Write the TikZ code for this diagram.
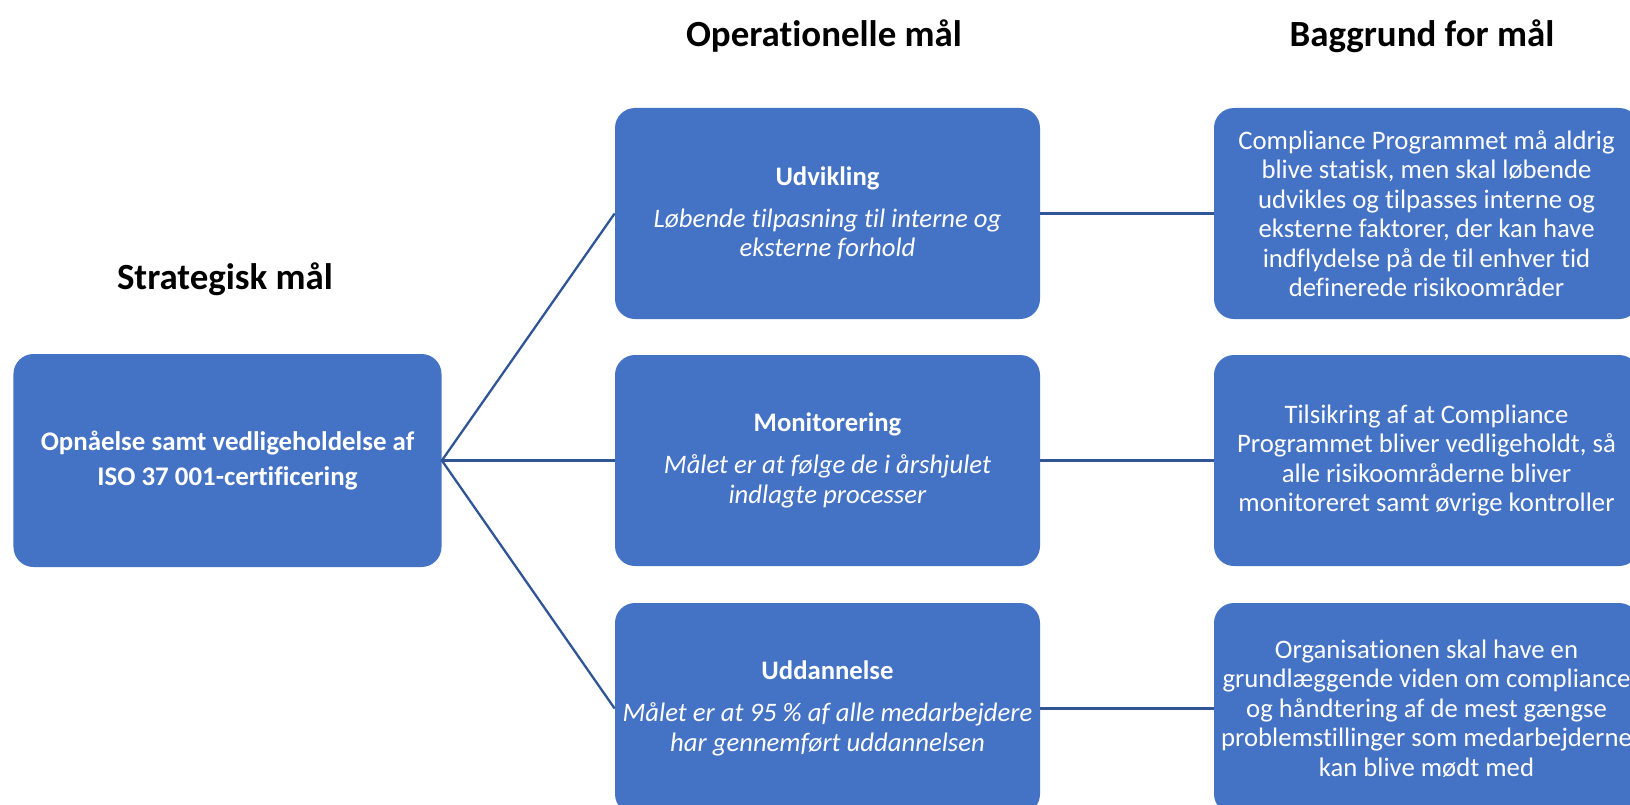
\documentclass[tikz,border=0pt]{standalone}
\usepackage{fontspec}
\setmainfont{Carlito}[Ligatures={NoCommon}]
\definecolor{boxblue}{HTML}{4472C4}
\definecolor{lineblue}{HTML}{2F5597}
\tikzset{
	box/.style={fill=boxblue,rounded corners=0.4cm,text=white,align=center,minimum width=8.5cm,minimum height=4.22cm,inner sep=0pt,font=\fontsize{15.2}{16.8}\selectfont},
	head/.style={font=\fontsize{21}{25}\selectfont\bfseries},
	link/.style={lineblue,line width=1.3pt}
}
\begin{document}
\begin{tikzpicture}[x=0.2mm,y=-0.2mm]
		\clip (0,0) rectangle (1630,805);
		\fill[white] (0,0) rectangle (1630,805);
		\node[head] (strathead) at (225,279) {Strategisk mål};
		\node[head] (ophead) at (824,36) {Operationelle mål};
		\node[head] (bghead) at (1422,36) {Baggrund for mål};
		\node[box,minimum width=8.56cm,minimum height=4.26cm,font=\fontsize{15.3}{20}\selectfont] (strat) at (227.5,460.5) {\textbf{Opnåelse samt vedligeholdelse af}\\\textbf{ISO 37 001-certificering}};
		\node[box] (udv) at (827.5,213.5) {\textbf{Udvikling}\\[7pt]\textit{Løbende tilpasning til interne og}\\\textit{eksterne forhold}};
		\node[box] (mon) at (827.5,460.5) {\textbf{Monitorering}\\[7pt]\textit{Målet er at følge de i årshjulet}\\\textit{indlagte processer}};
		\node[box] (udd) at (827.5,708.5) {\textbf{Uddannelse}\\[7pt]\textit{Målet er at 95 \% af alle medarbejdere}\\\textit{har gennemført uddannelsen}};
		\node[box] (bgudv) at (1426.5,213.5) {Compliance Programmet må aldrig\\blive statisk, men skal løbende\\udvikles og tilpasses interne og\\eksterne faktorer, der kan have\\indflydelse på de til enhver tid\\definerede risikoområder};
		\node[box] (bgmon) at (1426.5,460.5) {Tilsikring af at Compliance\\Programmet bliver vedligeholdt, så\\alle risikoområderne bliver\\monitoreret samt øvrige kontroller};
		\node[box] (bgudd) at (1426.5,708.5) {Organisationen skal have en\\grundlæggende viden om compliance\\og håndtering af de mest gængse\\problemstillinger som medarbejderne\\kan blive mødt med};
		\draw[link] (udv.west)--(strat.east)--(udd.west);
		\draw[link] (strat.east)--(mon.west);
		\draw[link] (udv.east)--(bgudv.west);
		\draw[link] (mon.east)--(bgmon.west);
		\draw[link] (udd.east)--(bgudd.west);
	\end{tikzpicture}
\end{document}
